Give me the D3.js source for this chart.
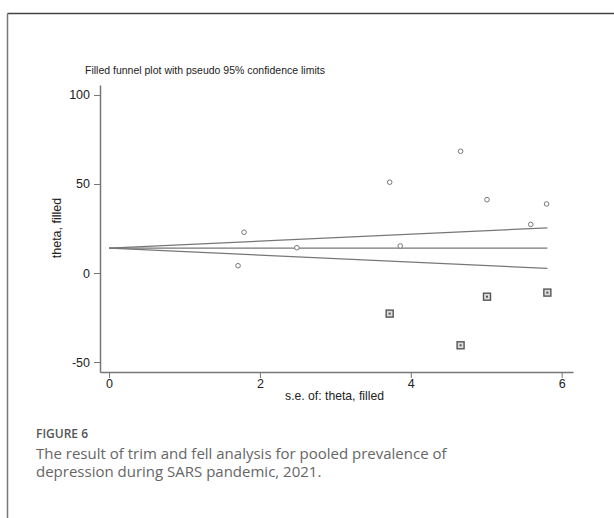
<!DOCTYPE html>
<html><head><meta charset="utf-8">
<script src="https://cdn.jsdelivr.net/npm/d3@7/dist/d3.min.js"></script>
<style>body{margin:0;background:#fff;}svg{display:block;}</style>
</head><body>
<svg id="c" width="614" height="518"></svg>
<script>
// Observed studies (standard error, effect)
const studySE    = [1.71, 1.79, 2.49, 3.72, 3.86, 4.66, 5.01, 5.59, 5.80];
const studyTheta = [4.1, 22.9, 14.2, 51.0, 15.2, 68.4, 41.2, 27.3, 38.8];
// Imputed (filled) studies
const filledSE    = [3.72, 4.66, 5.01, 5.81];
const filledTheta = [-22.8, -40.6, -13.3, -11.0];
const pooled = 14.0;
const maxSE = 5.81;
const xTicks = [0, 2, 4, 6];
const yTicks = [-50, 0, 50, 100];

const svg = d3.select("#c");
const font = "'Liberation Sans', Arial, sans-serif";

// frame
svg.append("line").attr("x1",7.5).attr("y1",13.5).attr("x2",614).attr("y2",13.5).attr("stroke","#444").attr("stroke-width",1.5);
svg.append("line").attr("x1",7.5).attr("y1",13.5).attr("x2",7.5).attr("y2",518).attr("stroke","#777").attr("stroke-width",1.5);

const x = d3.scaleLinear().domain([-0.12, 6.15]).range([100, 573]);
const y = d3.scaleLinear().domain([-55.6, 105.6]).range([372, 85]);

const axCol = "#777";
const fmt = d => String(d);
const gx = svg.append("g").attr("transform","translate(0,372)")
  .call(d3.axisBottom(x).tickValues(xTicks).tickFormat(fmt).tickSize(6).tickSizeOuter(0));
const gy = svg.append("g").attr("transform","translate(100,0)")
  .call(d3.axisLeft(y).tickValues(yTicks).tickFormat(fmt).tickSize(6).tickSizeOuter(0));
[gx, gy].forEach(g => {
  g.select(".domain").attr("stroke", axCol).attr("stroke-width", 1.5);
  g.selectAll(".tick line").attr("stroke", axCol).attr("stroke-width", 1);
  g.selectAll(".tick text").attr("fill","#222").style("font-family", font).style("font-size","12.5px");
});
gx.selectAll(".tick text").attr("y",7);
gy.selectAll(".tick text").attr("x",-10);

// funnel lines
const seRange = [0, maxSE];
const lineCol = "#777";
[[pooled, pooled],[pooled, pooled + 1.96*maxSE],[pooled, pooled - 1.96*maxSE]].forEach(v => {
  svg.append("line")
    .attr("x1", x(seRange[0])).attr("y1", y(v[0]))
    .attr("x2", x(seRange[1])).attr("y2", y(v[1]))
    .attr("stroke", lineCol).attr("stroke-width", 1.2);
});

// observed points
svg.append("g").selectAll("circle").data(studySE.map((s,i)=>[s, studyTheta[i]])).join("circle")
  .attr("cx", d=>x(d[0])).attr("cy", d=>y(d[1])).attr("r", 2.3)
  .attr("fill","#fff").attr("stroke","#777").attr("stroke-width",1);

// filled points
const fp = svg.append("g").selectAll("g").data(filledSE.map((s,i)=>[s, filledTheta[i]])).join("g");
fp.append("rect").attr("x", d=>x(d[0])-3.5).attr("y", d=>y(d[1])-3.5).attr("width",7).attr("height",7)
  .attr("fill","#ddd").attr("stroke","#555").attr("stroke-width",1.4);
fp.append("rect").attr("x", d=>x(d[0])-1).attr("y", d=>y(d[1])-1).attr("width",2).attr("height",2)
  .attr("fill","#555");

// titles
svg.append("text").attr("x",85).attr("y",74).text("Filled funnel plot with pseudo 95% confidence limits")
  .style("font-family",font).style("font-size","10.5px").attr("fill","#222");
svg.append("text").attr("x",334.5).attr("y",400).attr("text-anchor","middle").text("s.e. of: theta, filled")
  .style("font-family",font).style("font-size","12.2px").attr("fill","#222");
svg.append("text").attr("transform","translate(61,228) rotate(-90)").attr("text-anchor","middle").text("theta, filled")
  .style("font-family",font).style("font-size","12.5px").attr("fill","#222");

// caption
const cfont = "'Open Sans', 'Noto Sans', sans-serif";
svg.append("text").attr("x",36).attr("y",438).text("FIGURE 6")
  .style("font-family",cfont).style("font-size","12px").style("font-weight","600").attr("fill","#555");
svg.append("text").attr("x",36).attr("y",459).text("The result of trim and fell analysis for pooled prevalence of")
  .style("font-family",cfont).style("font-size","15px").attr("fill","#666");
svg.append("text").attr("x",36).attr("y",477).text("depression during SARS pandemic, 2021.")
  .style("font-family",cfont).style("font-size","15px").attr("fill","#666");
</script>
</body></html>
